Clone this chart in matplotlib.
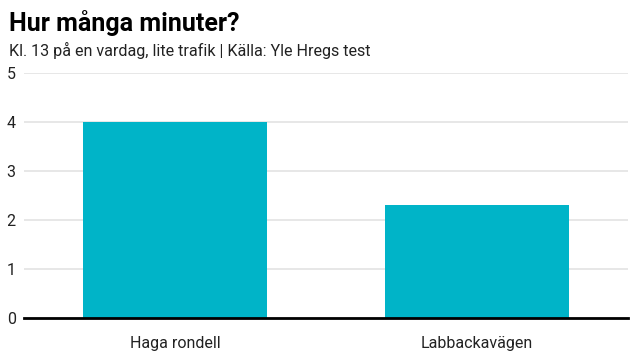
import matplotlib.pyplot as plt

# data
categories = ['Haga rondell', 'Labbackavägen']
minutes = [4.0, 2.3]
yticks = [0, 1, 2, 3, 4, 5]

plt.rcParams['font.family'] = ['Roboto', 'DejaVu Sans']

fig = plt.figure(figsize=(6.4, 3.6), dpi=100)
ax = fig.add_axes([0.0375, 0.1167, 0.9435, 0.6803])

ax.bar(range(len(categories)), minutes, width=0.61, color='#00b4c8', zorder=3)

ax.set_xlim(-0.5, 1.5)
ax.set_ylim(0, 5)
ax.set_yticks(yticks)
ax.set_xticks(range(len(categories)))
ax.set_xticklabels(categories)
ax.yaxis.grid(True, color='#e3e3e3', lw=1.2, zorder=0)
ax.tick_params(axis='both', length=0, labelsize=11.5, colors='#222222')
ax.tick_params(axis='x', pad=13)
ax.tick_params(axis='y', pad=6)
for s in ['top', 'right', 'left']:
    ax.spines[s].set_visible(False)
ax.spines['bottom'].set_linewidth(2)
ax.spines['bottom'].set_color('black')
ax.spines['bottom'].set_zorder(4)

fig.text(0.014, 0.935, 'Hur många minuter?', fontsize=18, fontweight='bold',
         va='center', ha='left', color='black')
fig.text(0.014, 0.86, 'Kl. 13 på en vardag, lite trafik | Källa: Yle Hregs test',
         fontsize=11.6, va='center', ha='left', color='#222222')

fig.savefig('out.png', dpi=100)
